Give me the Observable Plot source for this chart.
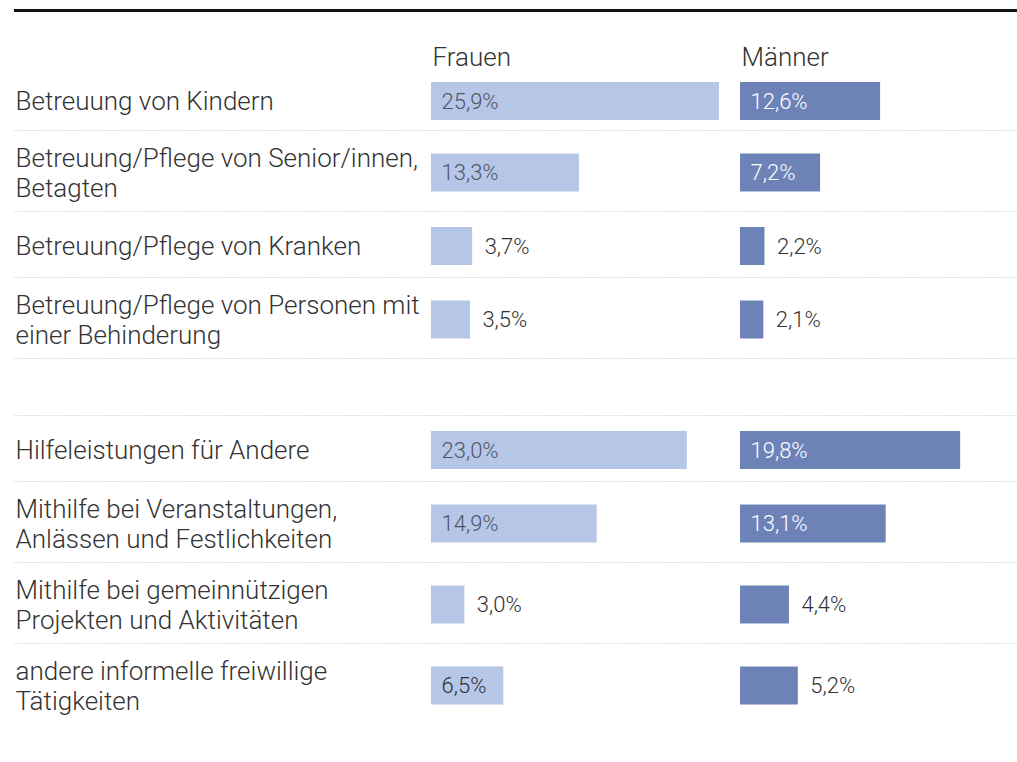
<!DOCTYPE html>
<html>
<head>
<meta charset="utf-8">
<script src="https://cdn.jsdelivr.net/npm/d3@7"></script>
<script src="https://cdn.jsdelivr.net/npm/@observablehq/plot@0.6"></script>
<style>
  html, body { margin: 0; padding: 0; background: #fff; }
  #chart svg { display: block; }
</style>
</head>
<body>
<div id="chart"></div>
<script>
// ---------- data ----------
const categories = [
  "Betreuung von Kindern",
  "Betreuung/Pflege von Senior/innen,\nBetagten",
  "Betreuung/Pflege von Kranken",
  "Betreuung/Pflege von Personen mit\neiner Behinderung",
  "Hilfeleistungen für Andere",
  "Mithilfe bei Veranstaltungen,\nAnlässen und Festlichkeiten",
  "Mithilfe bei gemeinnützigen\nProjekten und Aktivitäten",
  "andere informelle freiwillige\nTätigkeiten"
];
const groups = [1, 1, 1, 1, 2, 2, 2, 2];
const frauen = [25.9, 13.3, 3.7, 3.5, 23.0, 14.9, 3.0, 6.5];
const maenner = [12.6, 7.2, 2.2, 2.1, 19.8, 13.1, 4.4, 5.2];
const columns = ["Frauen", "Männer"];

// ---------- layout (derived from label line counts) ----------
const W = 1017, H = 762;
const pxPerPct = 11.12;
const colStartPx = {"Frauen": 431, "Männer": 740};
const colOffset = Object.fromEntries(columns.map(c => [c, (colStartPx[c] - colStartPx["Frauen"]) / pxPerPct]));
const rowH1 = 66, rowH2 = 81, groupGap = 57, firstTop = 64, headerY = 57, topRuleY = 10, barH = 38;

const rows = [];
let cursor = firstTop;
categories.forEach((label, i) => {
  if (i > 0 && groups[i] !== groups[i - 1]) cursor += groupGap;
  const lines = label.split("\n").length;
  const h = lines > 1 ? rowH2 : rowH1;
  const pad = i === 0 ? 4 : 2;
  rows.push({label, i, top: cursor, bottom: cursor + h, center: cursor + h / 2 + pad,
             first: i === 0 || groups[i] !== groups[i - 1]});
  cursor += h;
});

const bars = [];
rows.forEach(r => {
  [["Frauen", frauen[r.i]], ["Männer", maenner[r.i]]].forEach(([col, v]) => {
    bars.push({col, v, y: r.center, x1: colOffset[col], x2: colOffset[col] + v, inside: v > 6});
  });
});

// separators: below every row except the last one, plus above the first row of later groups
const seps = [];
rows.forEach((r, k) => {
  if (k < rows.length - 1) seps.push(r.bottom);
  if (r.first && k > 0) seps.push(r.top);
});

const fmt = v => d3.format(".1f")(v).replace(".", ",") + "%";
const colors = {"Frauen": "#b6c6e6", "Männer": "#6d83b7"};
const font = "Roboto, 'Noto Sans', sans-serif";
const labelSize = 26, valueSize = 22, textColor = "#333";

const chart = Plot.plot({
  width: W,
  height: H,
  marginLeft: 14,
  marginRight: 0,
  marginTop: 0,
  marginBottom: 0,
  style: {fontFamily: font, background: "#fff"},
  x: {type: "linear", domain: [0, 100], range: [colStartPx["Frauen"], colStartPx["Frauen"] + 100 * pxPerPct], axis: null},
  y: {type: "linear", domain: [0, H], range: [0, H], axis: null},
  marks: [
    Plot.ruleY(seps, {y: d => d, stroke: "#c9c9c9", strokeWidth: 1, strokeDasharray: "1,1.5"}),
    Plot.ruleY([topRuleY], {y: d => d, stroke: "#111", strokeWidth: 3}),
    Plot.text(columns, {
      x: c => colOffset[c], y: () => headerY, text: c => c,
      textAnchor: "start", lineAnchor: "middle", dx: 1,
      fontSize: labelSize, fontWeight: 300, fill: textColor
    }),
    Plot.text(rows, {
      frameAnchor: "left", y: "center", text: "label", dx: 1, dy: -1,
      textAnchor: "start", lineAnchor: "middle", lineHeight: 1.15,
      fontSize: labelSize, fontWeight: 300, fill: textColor
    }),
    Plot.rectX(bars, {
      x1: "x1", x2: "x2",
      y1: d => d.y - barH / 2, y2: d => d.y + barH / 2,
      fill: d => colors[d.col]
    }),
    // value labels inside the bar
    Plot.text(bars.filter(d => d.inside), {
      x: "x1", y: "y", dx: 10,
      text: d => fmt(d.v),
      textAnchor: "start", lineAnchor: "middle",
      fontSize: valueSize, fontWeight: 300,
      fill: d => d.col === "Männer" ? "#ffffff" : (d.v > 10 ? "#505665" : textColor)
    }),
    // value labels after the bar
    Plot.text(bars.filter(d => !d.inside), {
      x: "x2", y: "y", dx: 12,
      text: d => fmt(d.v),
      textAnchor: "start", lineAnchor: "middle",
      fontSize: valueSize, fontWeight: 300, fill: textColor
    })
  ]
});
document.getElementById("chart").appendChild(chart);
</script>
</body>
</html>
